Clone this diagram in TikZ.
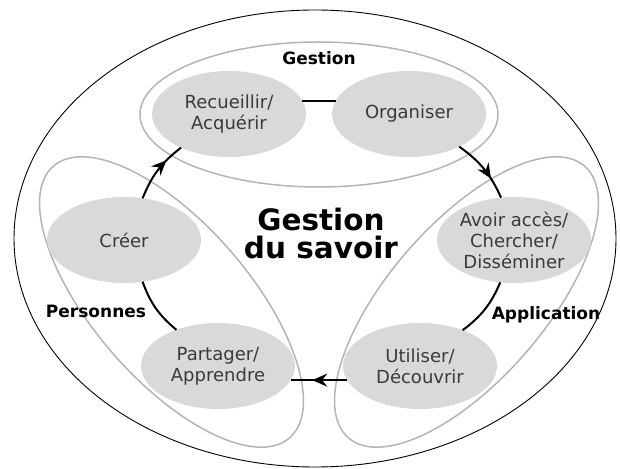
\documentclass[tikz,border=0pt]{standalone}
\usepackage{fontspec}
\setmainfont{DejaVu Sans}
\usetikzlibrary{arrows.meta,decorations.markings,shapes.geometric}
\definecolor{blobfill}{HTML}{D9D9D9}
\definecolor{groupline}{HTML}{B4B4B4}
\definecolor{labeltext}{HTML}{3A3A3A}
\tikzset{
  blob/.style={ellipse, fill=blobfill, minimum width=154pt, minimum height=86pt,
    inner sep=-6pt, outer sep=0pt, text=labeltext, align=center,
    font=\fontsize{18}{21}\selectfont},
  groupline/.style={draw=groupline, line width=1.5pt},
  grouplabel/.style={font=\fontsize{17}{20}\selectfont\bfseries, inner sep=0pt},
  flow/.style={line width=2pt, black},
  midarrow/.style={postaction={decorate}, decoration={markings,
    mark=at position #1 with {\arrow{Stealth[length=15pt,width=13pt,inset=5pt]}}}},
}
\begin{document}
\begin{tikzpicture}[x=1pt,y=1pt]
\useasboundingbox (0,0) rectangle (620,468);
% outer ellipse
\draw[black, line width=0.9pt] (315,229.5) ellipse [x radius=301pt, y radius=228.5pt];
% group ellipses
\draw[groupline] (319,353.5) ellipse [x radius=179pt, y radius=72.5pt];
\draw[groupline, rotate around={-49:(171.5,166)}] (171.5,166) ellipse [x radius=180pt, y radius=78pt];
\draw[groupline, rotate around={49:(466.5,166)}] (466.5,166) ellipse [x radius=180pt, y radius=78pt];
% blobs
\node[blob] (rec) at (229,354) {Recueillir/\\Acquérir};
\node[blob] (org) at (409,354) {Organiser};
\node[blob] (cre) at (124,228) {Créer};
\node[blob] (avo) at (514,228) {Avoir accès/\\Chercher/\\Disséminer};
\node[blob] (par) at (218,102) {Partager/\\Apprendre};
\node[blob] (uti) at (420,102) {Utiliser/\\Découvrir};
% labels
\node[grouplabel] (lgest) at (319,410) {Gestion};
\node[grouplabel] (lpers) at (96,157) {Personnes};
\node[grouplabel] (lappl) at (546,153) {Application};
\node[font=\fontsize{29.5}{28}\selectfont\bfseries, align=center, inner sep=0pt] (title)
  at (321,234) {Gestion\\du savoir};
% connectors
\draw[flow] (rec.10) -- (org.170);
\draw[flow, midarrow=0.7] (cre.66) to[bend left=15] (rec.215);
\draw[flow, midarrow=0.68] (org.327) to[bend left=15] (avo.107);
\draw[flow] (avo.252) to[bend left=15] (uti.40);
\draw[flow, midarrow=0.62] (uti.191) -- (par.349);
\draw[flow] (par.139) to[bend left=15] (cre.294);
\end{tikzpicture}
\end{document}
